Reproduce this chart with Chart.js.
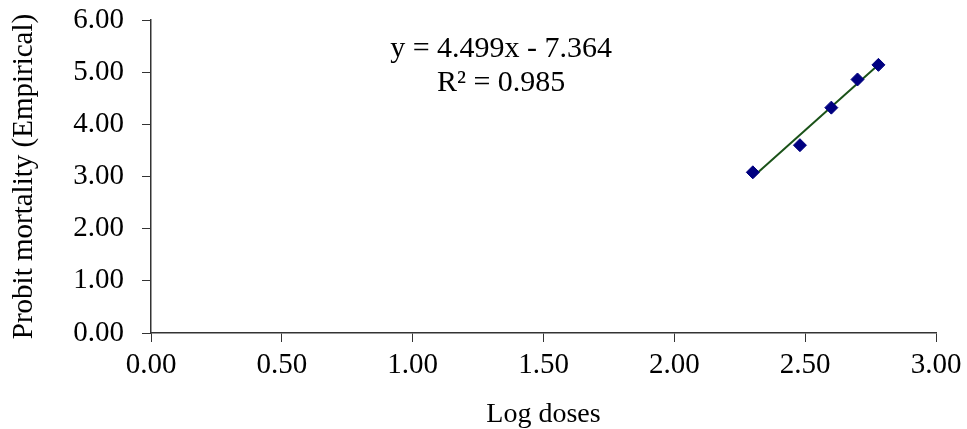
<!DOCTYPE html>
<html>
<head>
<meta charset="utf-8">
<script src="https://cdn.jsdelivr.net/npm/chart.js@4.4.0/dist/chart.umd.min.js"></script>
<style>
  html, body { margin: 0; padding: 0; background: #fff; }
  #wrap { width: 967px; height: 429px; }
</style>
</head>
<body>
<div id="wrap"><canvas id="probitChart" width="967" height="429"></canvas></div>
<script>
// Observed points (log10 of dose vs empirical probit)
const logDoses = [2.30, 2.48, 2.60, 2.70, 2.78];
const probits = [3.08, 3.60, 4.32, 4.86, 5.14];

// Fitted trend line end points
const trendX = [2.30, 2.78];
const trendY = [2.99, 5.14];

const equationText = 'y = 4.499x - 7.364';
const rSquaredText = 'R\u00B2 = 0.985';

const serif = "'Liberation Serif', 'Times New Roman', serif";

// Draws the regression equation on the plot
const equationPlugin = {
    id: 'equation',
    afterDraw(chart) {
        const ctx = chart.ctx;
        const area = chart.chartArea;
        ctx.save();
        ctx.fillStyle = '#000';
        ctx.font = '30px ' + serif;
        ctx.textAlign = 'center';
        ctx.textBaseline = 'middle';
        const cx = area.left + (area.right - area.left) * 0.446;
        ctx.fillText(equationText, cx, area.top + 29);
        ctx.fillText(rSquaredText, cx, area.top + 63);
        ctx.restore();
    }
};

function initProbitChart() {
    const ctx = document.getElementById('probitChart').getContext('2d');
    new Chart(ctx, {
        type: 'scatter',
        data: {
            datasets: [{
                label: 'Trend',
                type: 'line',
                data: trendX.map((x, i) => ({ x: x, y: trendY[i] })),
                borderColor: '#1a5218',
                borderWidth: 2,
                pointRadius: 0,
                fill: false,
                order: 2
            }, {
                label: 'Observed',
                data: logDoses.map((x, i) => ({ x: x, y: probits[i] })),
                pointStyle: 'rectRot',
                pointRadius: 6.5,
                backgroundColor: '#000080',
                borderColor: '#000080',
                order: 1
            }]
        },
        options: {
            responsive: false,
            animation: false,
            layout: { padding: { top: 20, right: 31, left: 0, bottom: 0 } },
            plugins: {
                legend: { display: false },
                tooltip: { enabled: false }
            },
            scales: {
                x: {
                    type: 'linear',
                    min: 0,
                    max: 3,
                    ticks: {
                        stepSize: 0.5,
                        color: '#000',
                        font: { family: serif, size: 29 },
                        padding: 6,
                        maxRotation: 0,
                        callback: v => v.toFixed(2)
                    },
                    grid: { drawOnChartArea: false, drawTicks: true, tickLength: 9, color: '#333' },
                    border: { color: '#333', width: 1.5 },
                    title: {
                        display: true,
                        text: 'Log doses',
                        color: '#000',
                        font: { family: serif, size: 28 },
                        padding: { top: 0, bottom: -2 }
                    },
                    afterFit: scale => {
                        scale.height = 96;
                        scale.paddingLeft = 0;
                        scale.paddingRight = 0;
                    }
                },
                y: {
                    min: 0,
                    max: 6,
                    ticks: {
                        stepSize: 1,
                        color: '#000',
                        font: { family: serif, size: 29 },
                        padding: 18,
                        callback: v => v.toFixed(2)
                    },
                    grid: { drawOnChartArea: false, drawTicks: true, tickLength: 9, color: '#333' },
                    border: { color: '#333', width: 1.5 },
                    title: {
                        display: true,
                        text: 'Probit mortality (Empirical)',
                        color: '#000',
                        font: { family: serif, size: 29 },
                        padding: { top: 7, bottom: 2 }
                    },
                    afterFit: scale => {
                        scale.width = 151;
                        scale.paddingTop = 0;
                        scale.paddingBottom = 0;
                    }
                }
            }
        },
        plugins: [equationPlugin]
    });
}

document.addEventListener('DOMContentLoaded', function() {
    initProbitChart();
});
</script>
</body>
</html>
